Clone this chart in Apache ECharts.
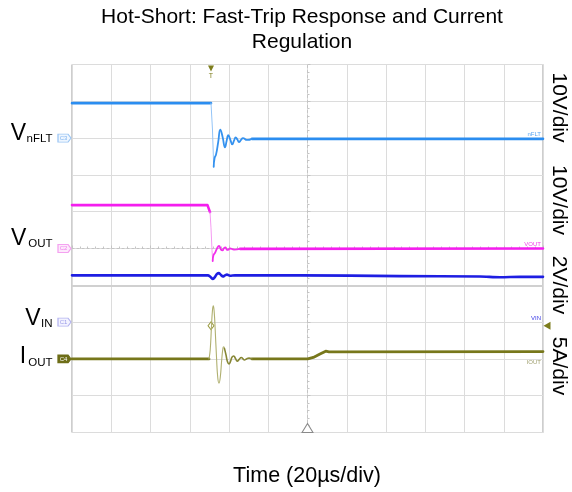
<!DOCTYPE html>
<html><head><meta charset="utf-8">
<script src="https://cdn.jsdelivr.net/npm/echarts@6/dist/echarts.min.js"></script>
<style>html,body{margin:0;padding:0;background:#fff}#c{width:572px;height:492px}</style>
</head><body><div id="c"></div>
<script>
// Time in µs relative to screen centre (20 µs/div); values in screen divisions from centre.
const nfltT = [-120, -49.17, -48.41, -47.80, -47.34, -46.62, -45.50, -44.43, -43.26, -42.04, -41.22, -40.36, -39.34, -38.32, -37.45, -36.59, -35.72, -34.91, -33.89, -32.87, -30.83, -28.28, 120];
const nfltV = [3.95, 3.95, 3.22, 2.22, 2.46, 2.55, 2.89, 3.23, 3.03, 2.75, 2.92, 3.08, 2.96, 2.83, 2.93, 3.02, 2.96, 2.89, 2.95, 3.00, 2.95, 2.98, 2.98];
const voutT = [-120, -50.96, -50.19, -49.68, -49.17, -48.66, -48.31, -47.90, -47.13, -46.11, -45.10, -44.08, -43.31, -42.55, -41.78, -41.02, -40.25, -39.49, -37.45, -34.39, 120];
const voutV = [1.18, 1.18, 1.14, 0.99, 0.56, -0.05, -0.34, -0.18, -0.12, 0.0, 0.07, -0.03, -0.05, 0.01, 0.03, -0.04, -0.03, 0.0, -0.03, -0.01, 0.0];
const vinT = [-120, -50.70, -49.68, -48.15, -47.13, -46.11, -45.10, -44.08, -43.06, -42.04, -41.02, -39.49, -36.94, -3.82, 47.13, 87.90, 98.09, 108.28, 120];
const vinV = [-0.73, -0.73, -0.76, -0.83, -0.77, -0.69, -0.67, -0.72, -0.76, -0.73, -0.71, -0.74, -0.73, -0.73, -0.75, -0.76, -0.78, -0.77, -0.77];
const ioutT = [-120, -50.19, -49.58, -48.92, -48.41, -48.00, -47.54, -47.03, -46.37, -45.71, -45.10, -44.43, -43.72, -43.06, -42.70, -42.29, -41.53, -40.76, -40.0, -39.24, -38.47, -37.61, -36.69, -35.77, -34.90, -33.73, -32.87, -32.11, -31.09, -29.81, -28.28, 0.10, 2.96, 6.37, 9.28, 10.96, 120];
const ioutV = [-3.0, -3.0, -2.76, -2.11, -1.67, -1.56, -1.73, -2.21, -2.95, -3.52, -3.66, -3.49, -3.03, -2.70, -2.67, -2.72, -2.89, -3.08, -3.14, -3.07, -2.95, -2.92, -2.99, -3.06, -3.02, -2.96, -3.00, -3.03, -3.00, -2.98, -3.0, -3.0, -2.96, -2.87, -2.79, -2.81, -2.80];

// [fast edge start, edge end / ringing start, ringing end] for each trace
const nfltPhases = [-49.17, -47.80, -28.28];
const voutPhases = [-49.68, -48.31, -34.39];
const ioutPhases = [-50.19, -42.29, -28.28];

const trigT = -49.17, trigLevel = -2.1;
const refLevels = {nflt: 3, vout: 0, vin: -2, iout: -3};

const xTicks = [-120, 120, 20];
const yTicks = [-5, 5, 1];

function pairs(t, v) { return t.map((x, i) => [x, v[i]]); }
function phases(t, v, p) {
  const d = pairs(t, v);
  return {
    slow: d.filter(q => q[0] <= p[0]).concat([[(p[0] + p[2]) / 2, '-']], d.filter(q => q[0] >= p[2])),
    edge: d.filter(q => q[0] >= p[0] && q[0] <= p[1]),
    ring: d.filter(q => q[0] >= p[1] && q[0] <= p[2])
  };
}
const nf = phases(nfltT, nfltV, nfltPhases);
const vo = phases(voutT, voutV, voutPhases);
const io = phases(ioutT, ioutV, ioutPhases);

function line(name, data, color, w, z, smooth) {
  return {name, type: 'line', data, showSymbol: false, symbol: 'none', connectNulls: false, smooth: smooth || false,
    lineStyle: {color, width: w, join: 'round', cap: 'round'}, z: z || 3, animation: false, silent: true};
}
function tag(level, text, border, fill, tcol) {
  return {coord: [xTicks[0], level], symbol: 'path://M0,0H10L13,4L10,8H0Z', symbolSize: [13, 8], symbolOffset: [-7.5, 0],
    itemStyle: {color: fill, borderColor: border, borderWidth: 1},
    label: {show: true, formatter: text, position: 'inside', fontSize: 6, color: tcol, offset: [-1, 0]}};
}
function endText(level, text, color, dy) {
  return {coord: [xTicks[1], level], symbol: 'circle', symbolSize: 0,
    label: {show: true, formatter: text, position: 'left', distance: 2, offset: [0, dy], fontSize: 6, color}};
}

const font = '"Liberation Sans", Arial, sans-serif';
const mctx = document.createElement('canvas').getContext('2d');
function tw(text, size) { mctx.font = size + 'px ' + font; return mctx.measureText(text).width; }
function txt(x, y, text, size, extra) {
  return Object.assign({type: 'text', x, y, silent: true,
    style: Object.assign({text, fontSize: size, fontFamily: font, fill: '#000', align: 'left', verticalAlign: 'middle'}, extra || {})});
}
const mainSize = 23, subSize = 11.5, subRight = 52.5;
function chanLabel(main, sub, baseline, gap) {
  const sw = tw(sub, subSize), mw = tw(main, mainSize);
  const sx = subRight - sw, mx = sx - gap - mw;
  return [txt(mx, baseline - 0.35 * mainSize, main, mainSize), txt(sx, baseline + 1.5 - 0.35 * subSize, sub, subSize)];
}
function rot(x, y, text) {
  return {type: 'text', x, y, rotation: -Math.PI / 2, silent: true,
    style: {text, fontSize: 21, fontFamily: font, fill: '#000', align: 'center', verticalAlign: 'middle'}};
}

const chart = echarts.init(document.getElementById('c'), null, {renderer: 'canvas'});
chart.setOption({
  animation: false,
  grid: {left: 72, right: 29, top: 64.5, bottom: 59.5, show: true, borderColor: '#9c9c9c', borderWidth: 1, backgroundColor: 'transparent'},
  xAxis: {type: 'value', min: xTicks[0], max: xTicks[1], interval: xTicks[2],
    axisLine: {show: true, onZero: true, lineStyle: {color: '#c4c4c4', type: [2, 3], width: 1}},
    axisTick: {show: true, inside: true, length: 3, lineStyle: {color: '#c4c4c4'}},
    minorTick: {show: true, splitNumber: 5, length: 2, lineStyle: {color: '#c4c4c4'}},
    axisLabel: {show: false}, splitLine: {show: true, lineStyle: {color: '#dcdcdc', width: 1}}},
  yAxis: {type: 'value', min: yTicks[0], max: yTicks[1], interval: yTicks[2],
    axisLine: {show: true, onZero: true, lineStyle: {color: '#c4c4c4', type: [2, 3], width: 1}},
    axisTick: {show: true, inside: true, length: 3, lineStyle: {color: '#c4c4c4'}},
    minorTick: {show: true, splitNumber: 5, length: 2, lineStyle: {color: '#c4c4c4'}},
    axisLabel: {show: false}, splitLine: {show: true, lineStyle: {color: '#dcdcdc', width: 1}}},
  series: [
    {type: 'line', data: [], silent: true, z: 1,
      markLine: {silent: true, symbol: 'none', label: {show: false}, lineStyle: {color: '#d0d0d0', width: 2, type: 'solid'}, data: [{yAxis: -1}], animation: false}},
    line('nflt', nf.slow, '#2b8df0', 2.6, 4),
    line('nfltEdge', nf.edge, '#93c4f7', 1, 4),
    line('nfltRing', nf.ring, '#3592ef', 1.8, 4, 0.5),
    line('vout', vo.slow, '#f41eee', 2.6, 4),
    line('voutEdge', vo.edge, '#f59af2', 1, 4),
    line('voutRing', vo.ring, '#f22eec', 1.8, 4, 0.5),
    line('vin', pairs(vinT, vinV), '#1e1ee2', 2.6, 4, 0.3),
    line('iout', io.slow, '#77771b', 2.8, 5),
    line('ioutEdge', io.edge, '#b0b070', 1.1, 5, 0.5),
    line('ioutRing', io.ring, '#868634', 1.6, 5, 0.5),
    {type: 'scatter', data: [], clip: false, z: 6, silent: true,
      markPoint: {animation: false, silent: true, data: [
        tag(refLevels.nflt, 'C3', '#9cc6f4', '#eef6ff', '#7fb3ef'),
        tag(refLevels.vout, 'C2', '#f4a2f0', '#fde9fc', '#ee80ea'),
        tag(refLevels.vin, 'C1', '#b4b4f0', '#f3f3ff', '#9a9ae8'),
        tag(refLevels.iout, 'C4', '#6e6e18', '#6e6e18', '#ffffff'),
        endText(refLevels.nflt, 'nFLT', '#5aa5f2', -4),
        endText(refLevels.vout, 'VOUT', '#f040ea', -4),
        endText(refLevels.vin, 'VIN', '#3a3ae6', -4),
        endText(refLevels.iout, 'IOUT', '#a0a070', 3),
        {coord: [trigT, yTicks[1]], symbol: 'triangle', symbolRotate: 180, symbolSize: [6, 6], symbolOffset: [0, 4],
          itemStyle: {color: '#7d7d1c'}, label: {show: true, formatter: 'T', position: 'bottom', distance: 1, fontSize: 7, color: '#7d7d1c'}},
        {coord: [trigT, trigLevel], symbol: 'diamond', symbolSize: [6, 8], itemStyle: {color: '#ffffff', borderColor: '#9a9a40', borderWidth: 1}, label: {show: false}},
        {coord: [xTicks[1], trigLevel], symbol: 'triangle', symbolRotate: 90, symbolSize: [8, 7], symbolOffset: [4, 0], itemStyle: {color: '#7d7d1c'}, label: {show: false}},
        {coord: [0, yTicks[0]], symbol: 'triangle', symbolSize: [11, 9], symbolOffset: [0, -4.5], itemStyle: {color: '#ffffff', borderColor: '#8a8a8a', borderWidth: 1}, label: {show: false}}
      ]}}
  ],
  graphic: [
    txt(302, 17, 'Hot-Short: Fast-Trip Response and Current', 21, {align: 'center'}),
    txt(302, 42, 'Regulation', 21, {align: 'center'}),
    txt(307, 476, 'Time (20µs/div)', 21.5, {align: 'center'})
  ].concat(
    chanLabel('V', 'nFLT', 141.7, 0.5),
    chanLabel('V', 'OUT', 246.7, 2),
    chanLabel('V', 'IN', 326.7, 0.5),
    chanLabel('I', 'OUT', 365, 2),
    [rot(559, 107.5, '10V/div'), rot(559, 200, '10V/div'), rot(559, 285, '2V/div'), rot(559, 366, '5A/div')]
  )
});
</script></body></html>
